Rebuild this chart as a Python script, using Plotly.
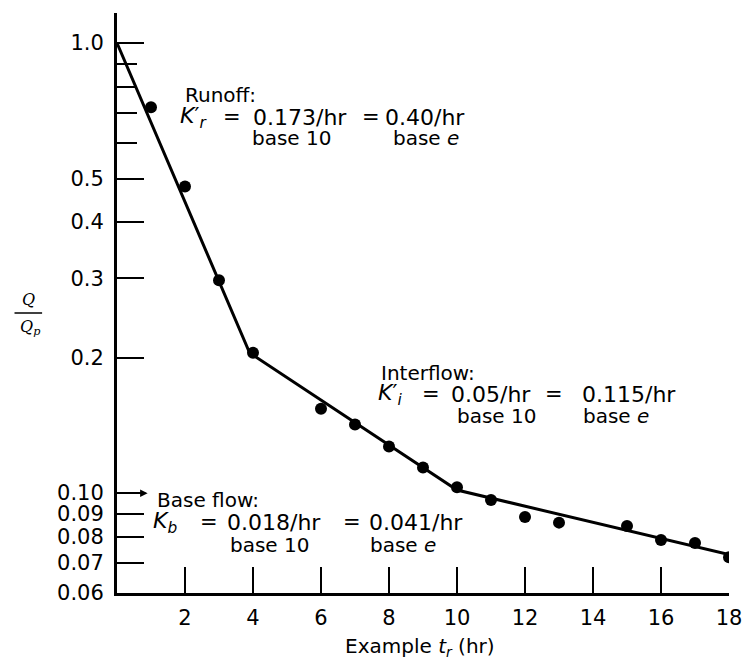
import math
import plotly.graph_objects as go

# Observed recession ordinates, Q/Qp versus time
t_obs = [1, 2, 3, 4, 6, 7, 8, 9, 10, 11, 12, 13, 15, 16, 17, 18]
q_obs = [0.72, 0.48, 0.297, 0.205, 0.154, 0.142, 0.127, 0.114, 0.103,
         0.0965, 0.0885, 0.086, 0.0845, 0.0787, 0.0775, 0.072]

# Fitted straight-line segments (runoff, interflow, base flow)
t_fit = [0, 3.9, 10, 18]
q_fit = [1.0, 0.205, 0.1016, 0.073]

# Recession constants: (symbol, base-10 rate, base-e rate)
components = ["Runoff:", "Interflow:", "Base flow:"]
k_symbols = ["<i>K</i>′<sub><i>r</i></sub>", "<i>K</i>′<sub><i>i</i></sub>", "<i>K<sub>b</sub></i>"]
k_base10 = ["0.173/hr", "0.05/hr", "0.018/hr"]
k_basee = ["0.40/hr", "0.115/hr", "0.041/hr"]

# Axis ticks
x_ticks = [2, 4, 6, 8, 10, 12, 14, 16, 18]
y_major = [0.06, 0.07, 0.08, 0.09, 0.10, 0.2, 0.3, 0.4, 0.5, 1.0]
y_major_text = ["0.06", "0.07", "0.08", "0.09", "0.10", "0.2", "0.3", "0.4", "0.5", "1.0"]
y_minor = [0.6, 0.7, 0.8, 0.9]

W, H = 754, 666
L, R, T, B = 117, 16, 13, 73
PW, PH = W - L - R, H - T - B
FONT = "DejaVu Sans"


def px(x):
    return (x - L) / PW


def py(y):
    return 1 - (y - T) / PH


def label(txt, x, y, size=20, family=FONT, anchor="left"):
    return dict(text=txt, x=px(x), y=py(y), xref="paper", yref="paper",
                xanchor=anchor, yanchor="middle", showarrow=False,
                font=dict(family=family, size=size, color="black"))


fig = go.Figure()
fig.add_trace(go.Scatter(x=t_fit, y=q_fit, mode="lines",
                         line=dict(color="black", width=3), showlegend=False))
fig.add_trace(go.Scatter(x=t_obs, y=q_obs, mode="markers",
                         marker=dict(color="black", size=12), showlegend=False))

# Layout of each note block: title pos, row y, x of symbol, "=", value, "=", value,
# and x of the two "base" captions with their row y
blocks = [
    dict(title=(184, 95), row=117, xs=(179, 223, 253, 364, 387), base=(252, 395, 138)),
    dict(title=(383, 373), row=394, xs=(380, 424, 454, 549, 587), base=(460, 588, 416)),
    dict(title=(156, 500), row=522, xs=(151, 199, 227, 344, 371), base=(230, 372, 545)),
]

annotations = []
for i, b in enumerate(blocks):
    annotations.append(label(components[i], *b["title"]))
    xs = b["xs"]
    annotations.append(label(k_symbols[i], xs[0], b["row"], size=22))
    annotations.append(label("=", xs[1], b["row"], size=21))
    annotations.append(label(k_base10[i], xs[2], b["row"], size=22))
    annotations.append(label("=", xs[3], b["row"], size=21))
    annotations.append(label(k_basee[i], xs[4], b["row"], size=22))
    annotations.append(label("base 10", b["base"][0], b["base"][2]))
    annotations.append(label("base <i>e</i>", b["base"][1], b["base"][2]))

# Arrow from the 0.10 tick toward the base-flow note
annotations.append(dict(x=0.9, y=math.log10(0.10), ax=0, ay=math.log10(0.10),
                        xref="x", yref="y", axref="x", ayref="y", text="",
                        showarrow=True, arrowhead=2, arrowsize=1, arrowwidth=1.5,
                        arrowcolor="black"))

# Axis titles
annotations.append(label("Example <i>t<sub>r</sub></i> (hr)", 424, 647, anchor="center"))
annotations.append(label("<i>Q</i>", 27, 299, size=16, family="DejaVu Serif", anchor="center"))
annotations.append(label("<i>Q<sub>p</sub></i>", 29, 327, size=16, family="DejaVu Serif",
                         anchor="center"))

shapes = [dict(type="line", xref="paper", yref="paper", x0=px(13), x1=px(41),
               y0=py(313), y1=py(313), line=dict(color="black", width=1.5))]

fig.update_layout(
    width=W, height=H,
    margin=dict(l=L, r=R, t=T, b=B),
    paper_bgcolor="white", plot_bgcolor="white",
    font=dict(family=FONT, size=20, color="black"),
    annotations=annotations, shapes=shapes,
    xaxis=dict(range=[0, 18], tickvals=x_ticks, ticks="inside", ticklen=26,
               tickwidth=1.5, tickcolor="black", showline=True, linecolor="black",
               linewidth=3, showgrid=False, zeroline=False,
               tickfont=dict(family=FONT, size=21), ticklabelstandoff=4),
    yaxis=dict(type="log", range=[math.log10(0.06), math.log10(1.166)],
               tickvals=y_major, ticktext=y_major_text, ticks="inside", ticklen=27,
               tickwidth=2, tickcolor="black", showline=True, linecolor="black",
               linewidth=3, showgrid=False, zeroline=False,
               tickfont=dict(family=FONT, size=21), ticklabelstandoff=6,
               minor=dict(tickvals=y_minor, ticks="inside", ticklen=20, tickwidth=2,
                          tickcolor="black", showgrid=False)),
)

fig.write_html("out.html")
